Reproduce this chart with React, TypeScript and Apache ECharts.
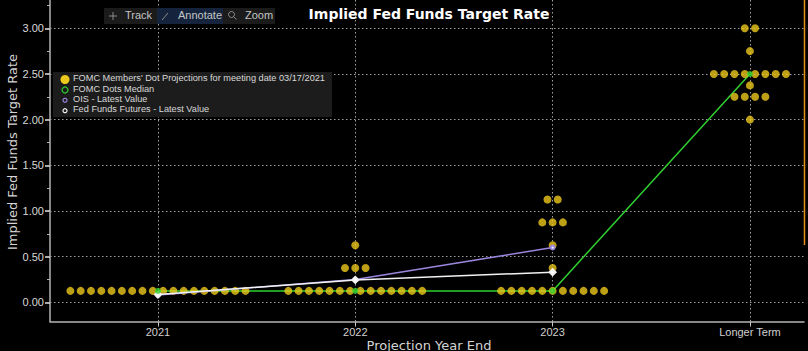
import React, { useEffect, useRef } from "react";
import * as echarts from "echarts";

// ---- data ----
const categories = ["2021", "2022", "2023", "Longer Term"];

const dotLevels2021 = [0.125];
const dotCounts2021 = [18];
const dotLevels2022 = [0.125, 0.375, 0.625];
const dotCounts2022 = [14, 3, 1];
const dotLevels2023 = [0.125, 0.375, 0.625, 0.875, 1.125];
const dotCounts2023 = [11, 1, 1, 3, 2];
const dotLevelsLonger = [2.0, 2.25, 2.375, 2.5, 2.75, 3.0];
const dotCountsLonger = [1, 4, 1, 8, 1, 2];

const medianValues = [0.125, 0.125, 0.125, 2.5];
const oisValues = [0.08, 0.25, 0.6];
const futuresValues = [0.085, 0.245, 0.33];

const yLabelValues = [0, 0.5, 1, 1.5, 2, 2.5, 3];
const yMinorTickValues = [0, 0.25, 0.5, 0.75, 1, 1.25, 1.5, 1.75, 2, 2.25, 2.5, 2.75, 3, 3.25];
const xTickValues = [0, 1, 2, 3];

const legendLabels = [
  "FOMC Members' Dot Projections for meeting date 03/17/2021",
  "FOMC Dots Median",
  "OIS - Latest Value",
  "Fed Funds Futures - Latest Value",
];

const titleText = "Implied Fed Funds Target Rate";
const yAxisTitle = "Implied Fed Funds Target Rate";
const xAxisTitle = "Projection Year End";

// ---- styles ----
const DOT_COLOR = "#ecc81c";
const GREEN = "#2fd02f";
const PURPLE = "#9a86dc";
const WHITE = "#f2f2f2";
const DOT_SPACING = 10.3;

export default function App() {
  const ref = useRef<HTMLDivElement>(null);

  useEffect(() => {
    if (!ref.current) return;
    const chart = echarts.init(ref.current, undefined, { renderer: "svg" });

    const groups = [
      { levels: dotLevels2021, counts: dotCounts2021 },
      { levels: dotLevels2022, counts: dotCounts2022 },
      { levels: dotLevels2023, counts: dotCounts2023 },
      { levels: dotLevelsLonger, counts: dotCountsLonger },
    ];
    const dotData: any[] = [];
    groups.forEach((g, ci) => {
      g.levels.forEach((lv, li) => {
        const n = g.counts[li];
        for (let i = 0; i < n; i++) {
          dotData.push({ value: [ci, lv], symbolOffset: [(i - (n - 1) / 2) * DOT_SPACING, 0] });
        }
      });
    });

    const gridLine = { color: "#a0a0a0", type: [1.5, 2.5] as any, width: 1 };
    const markLineData = [
      ...yLabelValues.map((v) => ({ yAxis: v })),
      ...xTickValues.map((v) => ({ xAxis: v })),
    ];

    const legendY = [79.5, 90, 100.3, 110.7];
    const legendText = (i: number) => ({
      type: "text",
      left: 73,
      top: legendY[i] - 6,
      style: {
        text: legendLabels[i],
        fill: "#d8d8d8",
        font: "9.2px 'Liberation Sans'",
        textVerticalAlign: "top",
      },
      z: 101,
    });

    const option: any = {
      animation: false,
      backgroundColor: "#000000",
      grid: { left: 50, right: 4, top: 0, bottom: 29.5, containLabel: false },
      xAxis: {
        type: "value",
        min: -0.547,
        max: 3.274,
        axisLine: { show: true, onZero: false, lineStyle: { color: "#b4b4b4", width: 1.5 } },
        axisTick: { show: true, customValues: xTickValues, length: 5, lineStyle: { color: "#c8c8c8" } },
        axisLabel: {
          show: true,
          customValues: xTickValues,
          formatter: (v: number) => categories[Math.round(v)] ?? "",
          color: "#d0d0d0",
          fontSize: 11,
          fontFamily: "Liberation Sans",
          margin: 5,
        },
        splitLine: { show: false },
      },
      yAxis: [
        {
          type: "value",
          min: -0.21,
          max: 3.31,
          position: "left",
          axisLine: { show: true, onZero: false, lineStyle: { color: "#b4b4b4", width: 1.5 } },
          axisTick: { show: true, customValues: yLabelValues, length: 5, lineStyle: { color: "#e0e0e0", width: 1.5 } },
          axisLabel: {
            show: true,
            customValues: yLabelValues,
            formatter: (v: number) => v.toFixed(2),
            color: "#d8d8d8",
            fontSize: 11,
            fontFamily: "Liberation Sans",
            margin: 6,
          },
          splitLine: { show: false },
        },
        {
          type: "value",
          min: -0.21,
          max: 3.31,
          position: "left",
          axisLine: { show: false, onZero: false },
          axisTick: { show: true, customValues: yMinorTickValues, length: 3, lineStyle: { color: "#b4b4b4" } },
          axisLabel: { show: false },
          splitLine: { show: false },
        },
      ],
      series: [
        {
          name: legendLabels[1],
          type: "line",
          z: 3,
          data: medianValues.map((v, i) => [i, v]),
          lineStyle: { color: GREEN, width: 1.5 },
          itemStyle: { color: GREEN },
          symbol: "none",
          markLine: {
            silent: true,
            z: 1,
            symbol: ["none", "none"],
            label: { show: false },
            lineStyle: gridLine,
            emphasis: { disabled: true },
            data: markLineData,
          },
        },
        {
          name: legendLabels[0],
          type: "scatter",
          z: 4,
          data: dotData,
          symbol: "circle",
          symbolSize: 8,
          itemStyle: { color: DOT_COLOR },
        },
        {
          name: legendLabels[2],
          type: "line",
          z: 5,
          data: oisValues.map((v, i) => [i, v]),
          lineStyle: { color: PURPLE, width: 1.5 },
          itemStyle: { color: PURPLE },
          symbol: "emptyCircle",
          symbolSize: 4,
        },
        {
          name: legendLabels[3],
          type: "line",
          z: 6,
          data: futuresValues.map((v, i) => [i, v]),
          lineStyle: { color: WHITE, width: 1.5 },
          itemStyle: { color: WHITE, borderColor: WHITE },
          symbol: "emptyDiamond",
          symbolSize: 6,
        },
        {
          name: legendLabels[1] + " markers",
          type: "scatter",
          z: 7,
          data: medianValues.map((v, i) => [i, v]),
          symbol: "circle",
          symbolSize: 6,
          itemStyle: { color: GREEN },
        },
      ],
      graphic: [
        // title
        {
          type: "text",
          x: 429,
          y: 14,
          style: {
            text: titleText,
            fill: "#ffffff",
            font: "bold 14px 'DejaVu Sans'",
            textAlign: "center",
            textVerticalAlign: "middle",
          },
          z: 100,
        },
        // toolbar
        { type: "rect", shape: { x: 104, y: 8, width: 171, height: 16 }, style: { fill: "#1b1b1b" }, z: 100 },
        { type: "rect", shape: { x: 157, y: 8, width: 66, height: 16 }, style: { fill: "#15243c" }, z: 100 },
        { type: "line", shape: { x1: 109, y1: 16, x2: 117, y2: 16 }, style: { stroke: "#8a8a8a", lineWidth: 1 }, z: 101 },
        { type: "line", shape: { x1: 113, y1: 12, x2: 113, y2: 20 }, style: { stroke: "#8a8a8a", lineWidth: 1 }, z: 101 },
        { type: "text", left: 125, top: 9.5, style: { text: "Track", fill: "#c4c4c4", font: "11px 'Liberation Sans'" }, z: 101 },
        { type: "line", shape: { x1: 162, y1: 20, x2: 168, y2: 13 }, style: { stroke: "#8a8a8a", lineWidth: 1 }, z: 101 },
        { type: "text", left: 178, top: 9.5, style: { text: "Annotate", fill: "#c4c4c4", font: "11px 'Liberation Sans'" }, z: 101 },
        { type: "circle", shape: { cx: 231.5, cy: 14.5, r: 3 }, style: { fill: "none", stroke: "#8a8a8a", lineWidth: 1 }, z: 101 },
        { type: "line", shape: { x1: 233.5, y1: 16.5, x2: 236.5, y2: 19.5 }, style: { stroke: "#8a8a8a", lineWidth: 1 }, z: 101 },
        { type: "text", left: 245, top: 9.5, style: { text: "Zoom", fill: "#c4c4c4", font: "11px 'Liberation Sans'" }, z: 101 },
        // legend box
        { type: "rect", shape: { x: 53, y: 72, width: 279, height: 45 }, style: { fill: "#1c1c1c" }, z: 100 },
        { type: "circle", shape: { cx: 65, cy: legendY[0], r: 4.5 }, style: { fill: DOT_COLOR }, z: 101 },
        { type: "circle", shape: { cx: 65, cy: legendY[1], r: 3 }, style: { fill: "none", stroke: GREEN, lineWidth: 1.2 }, z: 101 },
        { type: "circle", shape: { cx: 65, cy: legendY[2], r: 2 }, style: { fill: "none", stroke: PURPLE, lineWidth: 1.2 }, z: 101 },
        { type: "circle", shape: { cx: 65, cy: legendY[3], r: 2 }, style: { fill: "none", stroke: WHITE, lineWidth: 1.2 }, z: 101 },
        legendText(0),
        legendText(1),
        legendText(2),
        legendText(3),
        // axis titles
        {
          type: "text",
          x: 12,
          y: 152,
          rotation: Math.PI / 2,
          style: {
            text: yAxisTitle,
            fill: "#d4d4d4",
            font: "13px 'DejaVu Sans'",
            textAlign: "center",
            textVerticalAlign: "middle",
          },
          z: 100,
        },
        {
          type: "text",
          x: 429,
          y: 345,
          style: {
            text: xAxisTitle,
            fill: "#d4d4d4",
            font: "13px 'DejaVu Sans'",
            textAlign: "center",
            textVerticalAlign: "middle",
          },
          z: 100,
        },
        // right edge marker
        { type: "line", shape: { x1: 804.5, y1: 0, x2: 804.5, y2: 245 }, style: { stroke: "#e8901c", lineWidth: 1.5 }, z: 100 },
      ],
    };

    chart.setOption(option);
    return () => chart.dispose();
  }, []);

  return <div ref={ref} style={{ width: 808, height: 351, position: "absolute", left: 0, top: 0, background: "#000" }} />;
}
